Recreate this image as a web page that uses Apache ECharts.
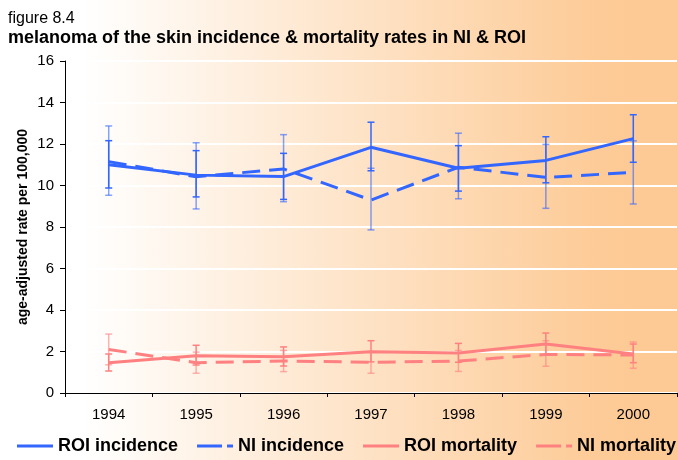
<!DOCTYPE html>
<html>
<head>
<meta charset="utf-8">
<script src="https://cdn.jsdelivr.net/npm/echarts@6/dist/echarts.min.js"></script>
<style>
html,body{margin:0;padding:0;}
#c{width:678px;height:460px;background:linear-gradient(to right,#ffffff 0%,#ffffff 12%,#fdcb97 88%,#fdc994 100%);}
</style>
</head>
<body>
<div id="c"></div>
<script>
var categories = ['1994','1995','1996','1997','1998','1999','2000'];
var yTicks = [0,2,4,6,8,10,12,14,16];

var roiIncidence = [11.0, 10.5, 10.43, 11.84, 10.83, 11.21, 12.26];
var roiIncidenceLow = [9.88, 9.45, 9.33, 10.71, 9.73, 10.13, 11.12];
var roiIncidenceHigh = [12.16, 11.68, 11.55, 13.05, 11.92, 12.35, 13.41];

var niIncidence = [11.15, 10.42, 10.8, 9.3, 10.88, 10.39, 10.63];
var niIncidenceLow = [9.53, 8.87, 9.22, 7.86, 9.36, 8.9, 9.11];
var niIncidenceHigh = [12.87, 12.06, 12.45, 10.83, 12.52, 11.98, 12.15];

var roiMortality = [1.46, 1.80, 1.75, 1.99, 1.93, 2.36, 1.88];
var roiMortalityLow = [1.06, 1.35, 1.30, 1.50, 1.48, 1.83, 1.46];
var roiMortalityHigh = [1.88, 2.30, 2.22, 2.52, 2.39, 2.89, 2.36];

var niMortality = [2.10, 1.46, 1.54, 1.48, 1.54, 1.86, 1.83];
var niMortalityLow = [1.36, 0.95, 1.03, 0.95, 1.04, 1.29, 1.19];
var niMortalityHigh = [2.84, 1.97, 2.05, 2.00, 2.05, 2.52, 2.46];

var seriesNames = ['ROI incidence','NI incidence','ROI mortality','NI mortality'];
var BLUE = '#3366ff', PINK = '#ff8080';
var SOLID_ICON = 'path://M0,0h36v3h-36z';
var DASH_ICON = 'path://M0,0h25v3h-25z M30,0h6v3h-6z';

function errData(low, high){
  return low.map(function(l,i){ return [i, l, high[i]]; });
}
function errSeries(low, high, color, opacity){
  return {
    type:'custom', silent:true, z:3,
    data: errData(low, high),
    renderItem:function(params, api){
      var x = api.value(0);
      var top = api.coord([x, api.value(2)]);
      var bot = api.coord([x, api.value(1)]);
      var h = 3.5;
      var st = {stroke: color, lineWidth: 1.5, opacity: opacity};
      return {type:'group', children:[
        {type:'line', shape:{x1:top[0],y1:top[1],x2:bot[0],y2:bot[1]}, style:st},
        {type:'line', shape:{x1:top[0]-h,y1:top[1],x2:top[0]+h,y2:top[1]}, style:st},
        {type:'line', shape:{x1:bot[0]-h,y1:bot[1],x2:bot[0]+h,y2:bot[1]}, style:st}
      ]};
    }
  };
}
function lineSeries(name, data, color, dashed){
  return {
    name:name, type:'line', data:data, symbol:'none', z:4,
    lineStyle:{color:color, width:3, type: dashed ? [18,9] : 'solid'},
    itemStyle:{color:color}
  };
}

var chart = echarts.init(document.getElementById('c'), null, {renderer:'canvas'});
chart.setOption({
  backgroundColor:'transparent',
  animation:false,
  title:[
    {text:'figure 8.4', left:8, top:11, padding:0,
     textStyle:{fontFamily:'Liberation Sans, Arial', fontSize:16, fontWeight:'normal', color:'#000'}},
    {text:'melanoma of the skin incidence & mortality rates in NI & ROI', left:8, top:29, padding:0,
     textStyle:{fontFamily:'Liberation Sans, Arial', fontSize:18, fontWeight:'bold', color:'#000'}}
  ],
  legend:{
    data: [
      {name:seriesNames[0], icon:SOLID_ICON},
      {name:seriesNames[1], icon:DASH_ICON},
      {name:seriesNames[2], icon:SOLID_ICON},
      {name:seriesNames[3], icon:DASH_ICON}
    ],
    left:17, top:437, padding:0, width:700,
    itemWidth:36, itemHeight:3, itemGap:19,
    textStyle:{fontFamily:'Liberation Sans, Arial', fontSize:18, fontWeight:'bold', color:'#000'}
  },
  grid:{left:65, right:1, top:61, bottom:67, containLabel:false},
  xAxis:{
    type:'category', data:categories, boundaryGap:true,
    axisLine:{lineStyle:{color:'#000', width:1}},
    axisTick:{show:true, length:4, lineStyle:{color:'#000'}},
    axisLabel:{color:'#000', fontFamily:'Liberation Sans, Arial', fontSize:15, margin:14},
    splitLine:{show:false}
  },
  yAxis:{
    type:'value', min:yTicks[0], max:yTicks[yTicks.length-1], interval:2,
    name:'age-adjusted rate per 100,000', nameLocation:'middle', nameGap:35,
    nameMoveOverlap:false,
    nameTextStyle:{fontFamily:'Liberation Sans, Arial', fontSize:14, fontWeight:'bold', color:'#000'},
    axisLine:{show:true, lineStyle:{color:'#000', width:1}},
    axisTick:{show:true, length:5, inside:false, lineStyle:{color:'#000'}},
    axisLabel:{color:'#000', fontFamily:'Liberation Sans, Arial', fontSize:15, margin:11},
    splitLine:{show:true, lineStyle:{color:'#ffffff', width:2}}
  },
  series:[
    lineSeries(seriesNames[0], roiIncidence, BLUE, false),
    lineSeries(seriesNames[1], niIncidence, BLUE, true),
    lineSeries(seriesNames[2], roiMortality, PINK, false),
    lineSeries(seriesNames[3], niMortality, PINK, true),
    errSeries(roiIncidenceLow, roiIncidenceHigh, BLUE, 1),
    errSeries(niIncidenceLow, niIncidenceHigh, BLUE, 0.6),
    errSeries(roiMortalityLow, roiMortalityHigh, PINK, 1),
    errSeries(niMortalityLow, niMortalityHigh, PINK, 0.6)
  ]
});
</script>
</body>
</html>
